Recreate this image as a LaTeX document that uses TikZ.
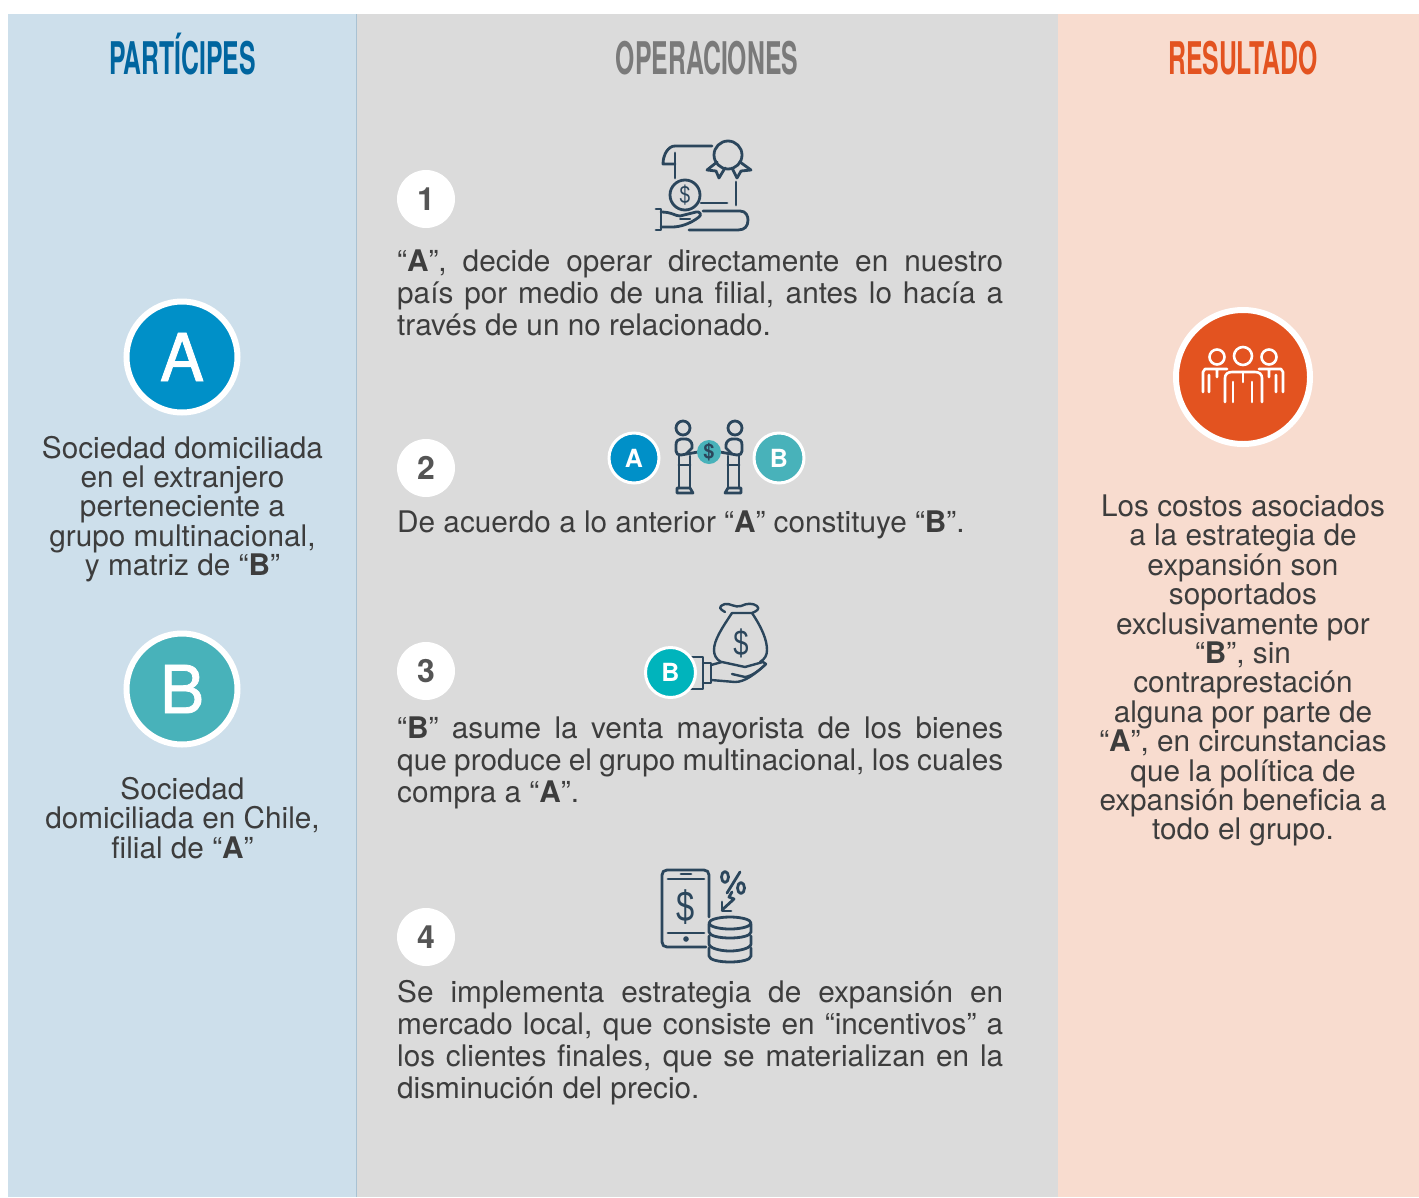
\documentclass[tikz,border=0pt]{standalone}
\usepackage{fontspec}
\usepackage{xcolor}
\setmainfont{TeX Gyre Heros}
\newfontfamily\headfont[FakeStretch=0.55]{TeX Gyre Heros}
\newfontfamily\signfont[FakeStretch=0.76]{Liberation Sans}
\newfontfamily\capfont[FakeBold=1.2]{TeX Gyre Heros}
\usetikzlibrary{positioning}
\definecolor{partcolor}{HTML}{CDDFEB}
\definecolor{opercolor}{HTML}{DBDBDB}
\definecolor{rescolor}{HTML}{F8DCCF}
\definecolor{partdark}{HTML}{00659F}
\definecolor{operdark}{HTML}{7A7A7A}
\definecolor{resdark}{HTML}{E35320}
\definecolor{bodycolor}{HTML}{3D3D3D}
\definecolor{numcolor}{HTML}{555555}
\definecolor{iconcolor}{HTML}{2B465C}
\definecolor{acolor}{HTML}{0090C8}
\definecolor{bcolor}{HTML}{48B2BA}
\definecolor{bbrightcolor}{HTML}{00B4BC}
\definecolor{rulecolor}{HTML}{A9C2D3}
\begin{document}
\begin{tikzpicture}[
    x=1pt, y=-1pt,
    heading/.style={font=\headfont\bfseries\fontsize{45}{45}\selectfont, inner sep=0pt, anchor=base},
    sidetext/.style={font=\fontsize{29.75}{29.4}\selectfont, text=bodycolor, align=center, inner sep=0pt},
    steptext/.style={font=\fontsize{29.75}{32}\selectfont, text=bodycolor, align=justify, text width=606pt, inner sep=0pt, anchor=north west},
    numcirc/.style={circle, fill=white, minimum size=58pt, inner sep=0pt, text=numcolor, font=\bfseries\fontsize{32}{32}\selectfont},
    bigcirc/.style={circle, fill=#1, draw=white, line width=6pt, minimum size=111pt, inner sep=0pt, text=white, font=\capfont\fontsize{66}{66}\selectfont},
    smallcirc/.style={circle, fill=#1, draw=white, line width=3pt, minimum size=50pt, inner sep=0pt, text=white, font=\bfseries\fontsize{25}{25}\selectfont},
    iconline/.style={draw=iconcolor, line width=2.8pt, line cap=round, line join=round},
    peopleline/.style={draw=white, line width=2.6pt, line cap=round, line join=round},
    dollar/.style={text=iconcolor, inner sep=0pt, font=\signfont\fontsize{#1}{#1}\selectfont}
]
    \useasboundingbox (0,0) rectangle (1419,1197);

    % Columns
    \fill[white] (0,0) rectangle (1419,1197);
    \fill[partcolor] (8,14) rectangle (356,1197);
    \fill[opercolor] (356,14) rectangle (1058,1197);
    \fill[rescolor] (1058,14) rectangle (1419,1197);
    \draw[rulecolor, line width=1pt] (356.5,14) -- (356.5,1197);

    % Headings
    \node[heading, text=partdark] (partiHead) at (182.5,74) {PARTÍCIPES};
    \node[heading, text=operdark] (operHead) at (707,74) {OPERACIONES};
    \node[heading, text=resdark] (resHead) at (1243,74) {RESULTADO};

    % Participants
    \node[bigcirc=acolor] (socA) at (182,357) {A};
    \node[sidetext] (socAtext) at (182.5,509) {Sociedad domiciliada\\en el extranjero\\perteneciente a\\grupo multinacional,\\y matriz de “\textbf{B}”};
    \node[bigcirc=bcolor] (socB) at (182,689) {B};
    \node[sidetext] (socBtext) at (182.5,818) {Sociedad\\domiciliada en Chile,\\filial de “\textbf{A}”};

    % Steps
    \node[numcirc] (num1) at (426,199) {1};
    \node[numcirc] (num2) at (426,468) {2};
    \node[numcirc] (num3) at (426,671) {3};
    \node[numcirc] (num4) at (426,937) {4};
    \node[steptext] (step1) at (397,250) {“\textbf{A}”, decide operar directamente en nuestro\linebreak país por medio de una filial, antes lo hacía a\linebreak través de un no relacionado.};
    \node[steptext] (step2) at (397,511) {De acuerdo a lo anterior “\textbf{A}” constituye “\textbf{B}”.};
    \node[steptext] (step3) at (397,717) {“\textbf{B}” asume la venta mayorista de los bienes\linebreak que produce el grupo multinacional, los cuales\linebreak compra a “\textbf{A}”.};
    \node[steptext] (step4) at (397,980) {Se implementa estrategia de expansión en\linebreak mercado local, que consiste en “incentivos” a\linebreak los clientes finales, que se materializan en la\linebreak disminución del precio.};

    % Icon 1: certificate and hand
    \draw[iconline] (712,146) -- (675,146) .. controls (668,146) and (663,155) .. (663,164) -- (675,164);
    \draw[iconline] (675,153) -- (675,178);
    \draw[iconline] (728,155) circle (14);
    \draw[iconline] (717,162) -- (707,170) -- (716,171) -- (719,178) -- (725,168);
    \draw[iconline] (740,162) -- (751,170) -- (741,171) -- (737,178) -- (732,168);
    \draw[iconline] (736,182) -- (736,205);
    \draw[iconline] (701,203) -- (727,203);
    \draw[iconline] (685,195) circle (15);
    \node[dollar=25] (coin1) at (685,195) {\$};
    \draw[iconline] (703,211) -- (740,211) .. controls (746,211) and (748,216) .. (748,220) .. controls (748,226) and (745,230) .. (738,230) -- (689,230);
    \draw[iconline] (656,209) -- (661,209) -- (661,230) -- (656,230);
    \draw[iconline] (661,212) .. controls (672,212) and (675,216) .. (680,216) -- (696,212) .. controls (700,211) and (702,215) .. (699,217) .. controls (690,224) and (680,227) .. (672,227) -- (661,227);
    \draw[iconline, line width=2pt] (680,219) -- (690,219);

    % Icon 2: handshake between A and B
    \draw[iconline] (683,428) circle (7);
    \draw[iconline] (686,439) -- (681,439) .. controls (678,439) and (676,441) .. (676,445) -- (676,451) .. controls (676,454) and (678,455) .. (681,455) -- (698,452);
    \draw[iconline] (686,439) .. controls (689,439) and (692,442) .. (692,445) -- (692,448) -- (686,454);
    \draw[iconline] (679,456) -- (679,488) (690,456) -- (690,488) (679,465) -- (690,465);
    \draw[iconline] (677,488) -- (690,488) -- (693,493) -- (677,493) -- cycle;
    \draw[iconline] (735,428) circle (7);
    \draw[iconline] (732,439) -- (737,439) .. controls (740,439) and (742,441) .. (742,445) -- (742,451) .. controls (742,454) and (740,455) .. (737,455) -- (720,452);
    \draw[iconline] (732,439) .. controls (729,439) and (726,442) .. (726,445) -- (726,448) -- (732,454);
    \draw[iconline] (739,456) -- (739,488) (728,456) -- (728,488) (728,465) -- (739,465);
    \draw[iconline] (741,488) -- (728,488) -- (725,493) -- (741,493) -- cycle;
    \node[circle, fill=bcolor, minimum size=24pt, inner sep=0pt, text=iconcolor, font=\bfseries\fontsize{20}{20}\selectfont] (coin2) at (709,452) {\$};
    \node[smallcirc=acolor] (miniA) at (634,458) {A};
    \node[smallcirc=bcolor] (miniB) at (779,458) {B};

    % Icon 3: hand with money bag
    \draw[iconline, line width=2.4pt] (725,612) .. controls (720,609) and (717,607) .. (725,604) .. controls (730,603) and (735,608) .. (741,606) .. controls (747,603) and (753,603) .. (757,606) .. controls (760,609) and (757,611) .. (752,613) -- (732,613);
    \draw[iconline, line width=2.4pt] (732,613) .. controls (722,628) and (714,640) .. (714,650) .. controls (714,655) and (716,659) .. (721,662);
    \draw[iconline, line width=2.4pt] (752,613) .. controls (762,628) and (767,640) .. (767,650) .. controls (767,655) and (765,659) .. (760,662);
    \node[dollar=36] (bagsign) at (741,643) {\$};
    \draw[iconline, line width=2.4pt] (688,657) -- (703,657) -- (703,689) -- (688,689);
    \draw[iconline, line width=2.4pt] (703,663) -- (711,663) -- (711,683) -- (703,683);
    \draw[iconline, line width=2.4pt] (711,665) -- (722,662) -- (745,667) -- (763,662) -- (766,664) .. controls (760,670) and (752,676) .. (745,677) -- (732,674);
    \draw[iconline, line width=2.4pt] (711,680) -- (735,682) .. controls (745,682) and (755,674) .. (766,664);
    \node[smallcirc=bbrightcolor] (miniBb) at (670.5,672.5) {B};

    % Icon 4: phone, percent and coins
    \draw[iconline] (709,917) -- (709,875) .. controls (709,872) and (707,870) .. (704,870) -- (667,870) .. controls (664,870) and (662,872) .. (662,875) -- (662,942) .. controls (662,945) and (664,947) .. (667,947) -- (706,947);
    \draw[iconline] (668,879) -- (704,879) (681,874) -- (691,874) (668,933) -- (704,933);
    \fill[iconcolor] (686,939) circle (2.8);
    \node[dollar=43] (phonesign) at (686,907) {\$};
    \draw[iconline] (740,872) -- (727,893);
    \draw[iconline] (725,877) ellipse (3.5 and 5.5);
    \draw[iconline] (741,888) ellipse (3.5 and 5.5);
    \draw[iconline] (732,892) -- (729,897) -- (734,899) -- (722,910);
    \draw[iconline] (722,902) -- (722,911) -- (731,911);
    \draw[iconline] (730,923) ellipse (21 and 6);
    \draw[iconline] (709,924) -- (709,932) .. controls (709,936) and (720,938) .. (730,938) .. controls (740,938) and (751,936) .. (751,932) -- (751,924);
    \draw[iconline] (709,936) -- (709,944) .. controls (709,948) and (720,951) .. (730,951) .. controls (740,951) and (751,948) .. (751,944) -- (751,936);
    \draw[iconline] (709,948) -- (709,956) .. controls (709,960) and (720,962) .. (730,962) .. controls (740,962) and (751,960) .. (751,956) -- (751,948);

    % Result
    \node[circle, fill=resdark, draw=white, line width=6pt, minimum size=134pt, inner sep=0pt] (resCirc) at (1243,377) {};
    \draw[peopleline] (1243,356) circle (9);
    \draw[peopleline] (1217,357) circle (7.5);
    \draw[peopleline] (1269,357) circle (7.5);
    \draw[peopleline] (1225,402) -- (1225,378) .. controls (1225,374) and (1228,372) .. (1232,372) -- (1255,372) .. controls (1259,372) and (1262,374) .. (1262,378) -- (1262,402);
    \draw[peopleline] (1233,382) -- (1233,402) (1252,382) -- (1252,402) (1243,372) -- (1243,382);
    \draw[peopleline] (1203,392) -- (1203,372) -- (1205,369) -- (1227,369) (1209,375) -- (1209,392) (1217,370) -- (1217,377);
    \draw[peopleline] (1283,392) -- (1283,372) -- (1281,369) -- (1259,369) (1276,375) -- (1276,392) (1269,370) -- (1269,377);
    \node[sidetext] (resText) at (1243,670.5) {Los costos asociados\\a la estrategia de\\expansión son\\soportados\\exclusivamente por\\“\textbf{B}”, sin\\contraprestación\\alguna por parte de\\“\textbf{A}”, en circunstancias\\que la política de\\expansión beneficia a\\todo el grupo.};
\end{tikzpicture}
\end{document}
